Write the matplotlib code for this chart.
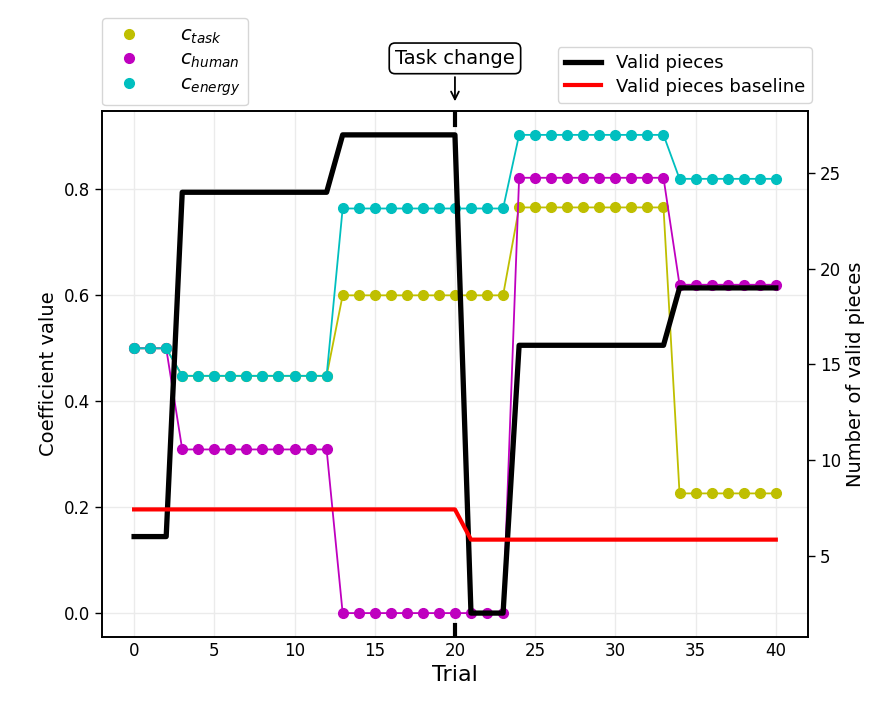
import matplotlib
matplotlib.use('Agg')
import matplotlib.pyplot as plt
import numpy as np

trials = np.arange(41)

# coefficient values (constant blocks per trial range)
c_task = [0.5] * 3 + [0.448] * 10 + [0.6] * 11 + [0.766] * 10 + [0.226] * 7
c_human = [0.5] * 3 + [0.309] * 10 + [0.0] * 11 + [0.822] * 10 + [0.62] * 7
c_energy = [0.5] * 3 + [0.448] * 10 + [0.764] * 11 + [0.903] * 10 + [0.82] * 7

valid_pieces = [6] * 3 + [24] * 10 + [27] * 8 + [2] * 3 + [16] * 10 + [19] * 7
valid_baseline = [7.42] * 21 + [5.84] * 20

task_change = 20

fig = plt.figure(figsize=(8.81, 7.01), dpi=100)
ax = fig.add_axes([0.1158, 0.0913, 0.8012, 0.7504])

ax.plot(trials, c_task, 'o-', color='#bfbf00', lw=1.3, ms=7, label='$c_{task}$')
ax.plot(trials, c_human, 'o-', color='#bf00bf', lw=1.3, ms=7, label='$c_{human}$')
ax.plot(trials, c_energy, 'o-', color='#00bfbf', lw=1.3, ms=7, label='$c_{energy}$')
ax.set_ylabel('Coefficient value', fontsize=14)
ax.set_xlabel('Trial', fontsize=16)
ax.set_xticks(range(0, 41, 5))
ax.set_yticks([0.0, 0.2, 0.4, 0.6, 0.8])
ax.grid(color='#ebebeb', linewidth=1)
ax.set_axisbelow(True)
ax.tick_params(labelsize=12, length=5, width=1, direction='out')
ax.tick_params(axis='x', length=0)

ax.axvline(task_change, ymin=0.973, ymax=1.0, color='black', lw=3)
ax.axvline(task_change, ymin=0.0, ymax=0.023, color='black', lw=3)

handles = [plt.Line2D([], [], marker='o', ls='none', color=c, ms=7)
           for c in ['#bfbf00', '#bf00bf', '#00bfbf']]
leg1 = ax.legend(handles, ['$c_{task}$', '$c_{human}$', '$c_{energy}$'],
                 loc='upper left', bbox_to_anchor=(0.1158, 0.974),
                 bbox_transform=fig.transFigure, borderaxespad=0,
                 fontsize=14, handletextpad=1.6, labelspacing=0.2)

ax.annotate('Task change', xy=(task_change, 1.013), xycoords=('data', 'axes fraction'),
            xytext=(task_change, 1.10), textcoords=('data', 'axes fraction'),
            ha='center', va='center', fontsize=14, annotation_clip=False,
            bbox=dict(boxstyle='round,pad=0.3', fc='white', ec='black', lw=1.2),
            arrowprops=dict(arrowstyle='->', color='black', lw=1.3))

ax2 = ax.twinx()
ax2.plot(trials, valid_pieces, color='black', lw=3.8, label='Valid pieces')
ax2.plot(trials, valid_baseline, color='red', lw=3, label='Valid pieces baseline')
ax2.set_ylabel('Number of valid pieces', fontsize=14)
ax2.set_yticks([5, 10, 15, 20, 25])
ax2.tick_params(labelsize=12, length=5, width=1, direction='out')
ax2.legend(loc='upper right', bbox_to_anchor=(0.9217, 0.933),
           bbox_transform=fig.transFigure, borderaxespad=0, fontsize=13,
           labelspacing=0.3)

for a in (ax, ax2):
    for s in a.spines.values():
        s.set_color('black')
        s.set_linewidth(1.2)

fig.savefig('out.png', dpi=100)
